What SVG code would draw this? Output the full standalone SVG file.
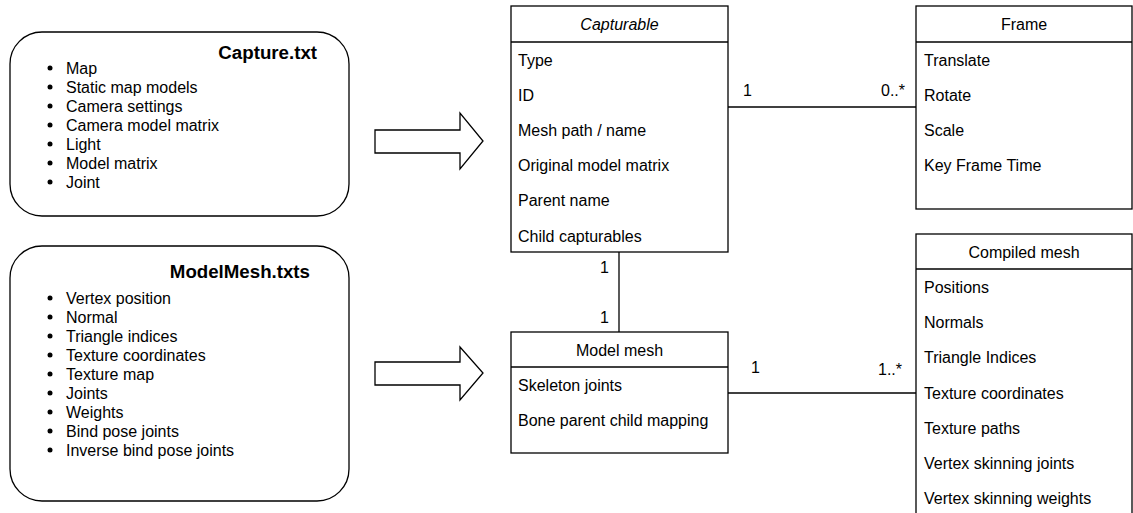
<svg xmlns="http://www.w3.org/2000/svg" width="1133" height="513" viewBox="0 0 1133 513">
  <style>
    text { font-family: "Liberation Sans", Arial, sans-serif; font-size: 16px; fill: #000; }
    .title { font-weight: bold; font-size: 18.7px; }
    .hdr { text-anchor: middle; }
    .it { font-style: italic; }
    .box { fill: #fff; stroke: #000; stroke-width: 1.3; }
    .ln { fill: none; stroke: #000; stroke-width: 1.3; }
  </style>
  <rect width="1133" height="513" fill="#fff"/>

  <!-- Capture.txt note -->
  <g id="capture-txt">
    <rect class="box" x="10" y="32" width="339" height="184" rx="32" ry="32"/>
    <text class="title" x="317" y="59" text-anchor="end">Capture.txt</text>
    <g>
      <circle cx="50" cy="68" r="2.5"/><text x="66" y="73.5">Map</text>
      <circle cx="50" cy="87" r="2.5"/><text x="66" y="92.5">Static map models</text>
      <circle cx="50" cy="106" r="2.5"/><text x="66" y="111.5">Camera settings</text>
      <circle cx="50" cy="125" r="2.5"/><text x="66" y="130.5">Camera model matrix</text>
      <circle cx="50" cy="144" r="2.5"/><text x="66" y="149.5">Light</text>
      <circle cx="50" cy="163" r="2.5"/><text x="66" y="168.5">Model matrix</text>
      <circle cx="50" cy="182" r="2.5"/><text x="66" y="187.5">Joint</text>
    </g>
  </g>

  <!-- ModelMesh.txts note -->
  <g id="modelmesh-txts">
    <rect class="box" x="10" y="246" width="339" height="255" rx="32" ry="32"/>
    <text class="title" x="310" y="278" text-anchor="end">ModelMesh.txts</text>
    <g>
      <circle cx="50" cy="298" r="2.5"/><text x="66" y="303.5">Vertex position</text>
      <circle cx="50" cy="317" r="2.5"/><text x="66" y="322.5">Normal</text>
      <circle cx="50" cy="336" r="2.5"/><text x="66" y="341.5">Triangle indices</text>
      <circle cx="50" cy="355" r="2.5"/><text x="66" y="360.5">Texture coordinates</text>
      <circle cx="50" cy="374" r="2.5"/><text x="66" y="379.5">Texture map</text>
      <circle cx="50" cy="393" r="2.5"/><text x="66" y="398.5">Joints</text>
      <circle cx="50" cy="412" r="2.5"/><text x="66" y="417.5">Weights</text>
      <circle cx="50" cy="431" r="2.5"/><text x="66" y="436.5">Bind pose joints</text>
      <circle cx="50" cy="450" r="2.5"/><text x="66" y="455.5">Inverse bind pose joints</text>
    </g>
  </g>

  <!-- Block arrows -->
  <g id="arrow-capture">
    <path class="box" d="M375,130 H460 V113 L483,141 L460,169 V153 H375 Z"/>
  </g>
  <g id="arrow-modelmesh">
    <path class="box" d="M375,362 H460 V347 L483,373 L460,400 V385 H375 Z"/>
  </g>

  <!-- Connectors -->
  <g id="connectors">
    <line class="ln" x1="728" y1="107" x2="916" y2="107"/>
    <text x="743" y="96">1</text>
    <text x="905" y="96" text-anchor="end">0..*</text>

    <line class="ln" x1="619" y1="252" x2="619" y2="332"/>
    <text x="609" y="273" text-anchor="end">1</text>
    <text x="609" y="323" text-anchor="end">1</text>

    <line class="ln" x1="728" y1="393" x2="916" y2="393"/>
    <text x="751" y="373">1</text>
    <text x="902" y="375" text-anchor="end">1..*</text>
  </g>

  <!-- Capturable class -->
  <g id="capturable">
    <rect class="box" x="511" y="6" width="217" height="246"/>
    <line class="ln" x1="511" y1="42" x2="728" y2="42"/>
    <text class="hdr it" x="619.5" y="29.5">Capturable</text>
    <text x="518" y="65.5">Type</text>
    <text x="518" y="100.5">ID</text>
    <text x="518" y="135.5">Mesh path / name</text>
    <text x="518" y="170.5">Original model matrix</text>
    <text x="518" y="205.5">Parent name</text>
    <text x="518" y="241.5">Child capturables</text>
  </g>

  <!-- Frame class -->
  <g id="frame">
    <rect class="box" x="916" y="6" width="216" height="203"/>
    <line class="ln" x1="916" y1="42" x2="1132" y2="42"/>
    <text class="hdr" x="1024" y="29.5">Frame</text>
    <text x="924" y="65.5">Translate</text>
    <text x="924" y="100.5">Rotate</text>
    <text x="924" y="135.5">Scale</text>
    <text x="924" y="170.5">Key Frame Time</text>
  </g>

  <!-- Model mesh class -->
  <g id="model-mesh">
    <rect class="box" x="511" y="332" width="217" height="121"/>
    <line class="ln" x1="511" y1="367" x2="728" y2="367"/>
    <text class="hdr" x="619.5" y="355.5">Model mesh</text>
    <text x="518" y="390.5">Skeleton joints</text>
    <text x="518" y="425.5">Bone parent child mapping</text>
  </g>

  <!-- Compiled mesh class -->
  <g id="compiled-mesh">
    <rect class="box" x="916" y="234" width="216" height="290"/>
    <line class="ln" x1="916" y1="269" x2="1132" y2="269"/>
    <text class="hdr" x="1024" y="257.5">Compiled mesh</text>
    <text x="924" y="292.5">Positions</text>
    <text x="924" y="327.5">Normals</text>
    <text x="924" y="362.5">Triangle Indices</text>
    <text x="924" y="398.5">Texture coordinates</text>
    <text x="924" y="433.5">Texture paths</text>
    <text x="924" y="468.5">Vertex skinning joints</text>
    <text x="924" y="503.5">Vertex skinning weights</text>
  </g>
</svg>
